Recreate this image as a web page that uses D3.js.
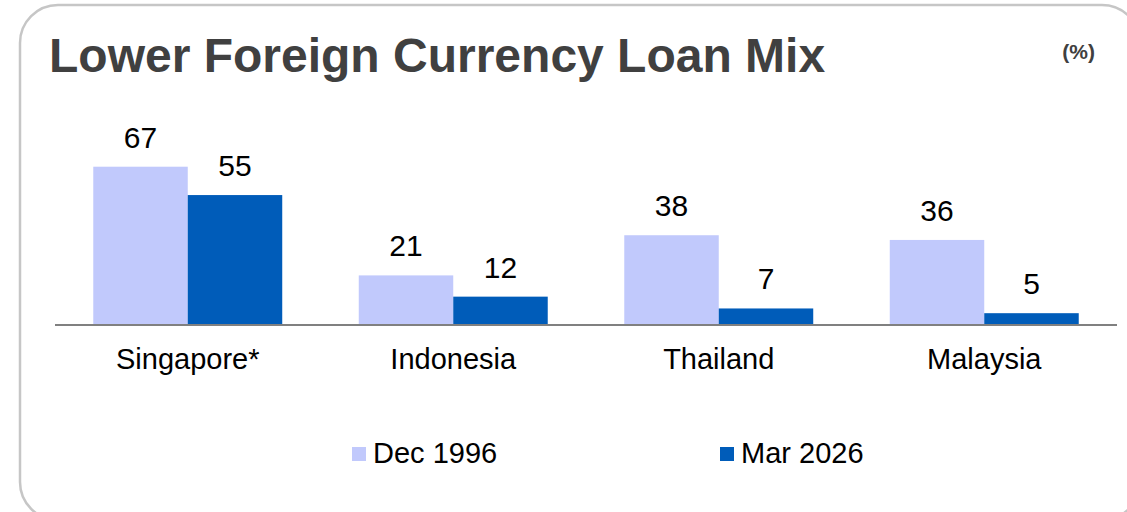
<!DOCTYPE html>
<html>
<head>
<meta charset="utf-8">
<script src="https://cdn.jsdelivr.net/npm/d3@7"></script>
<style>
  html, body { margin: 0; padding: 0; background: #fff; }
  svg text { font-family: Arial, "Liberation Sans", sans-serif; }
</style>
</head>
<body>
<div id="chart"></div>
<script>
// data
const countries = ["Singapore*", "Indonesia", "Thailand", "Malaysia"];
const seriesNames = ["Dec 1996", "Mar 2026"];
const dec1996 = [67, 21, 38, 36];
const mar2026 = [55, 12, 7, 5];

const width = 1127, height = 512;
const colors = ["#c1c9fc", "#005cb9"];

const svg = d3.select("#chart").append("svg")
  .attr("width", width)
  .attr("height", height);

// rounded frame
svg.append("rect")
  .attr("x", 20).attr("y", 5)
  .attr("width", 1120).attr("height", 515)
  .attr("rx", 38).attr("ry", 38)
  .attr("fill", "#fff")
  .attr("stroke", "#c6c6c6")
  .attr("stroke-width", 2.5);

svg.append("text")
  .attr("x", 49).attr("y", 72)
  .style("font-size", "48px")
  .style("font-weight", "bold")
  .style("fill", "#404040")
  .text("Lower Foreign Currency Loan Mix");

svg.append("text")
  .attr("x", 1095).attr("y", 59)
  .attr("text-anchor", "end")
  .style("font-size", "21px")
  .style("font-weight", "bold")
  .style("fill", "#404040")
  .text("(%)");

const x0 = d3.scaleBand()
  .domain(countries)
  .range([55, 1117]);

const x1 = d3.scaleBand()
  .domain(seriesNames)
  .range([0, x0.bandwidth()])
  .paddingOuter(0.405);

const y = d3.scaleLinear()
  .domain([0, 80])
  .range([325, 136]);

const rows = countries.map((c, i) => ({
  country: c,
  values: [
    { key: seriesNames[0], value: dec1996[i] },
    { key: seriesNames[1], value: mar2026[i] }
  ]
}));

const groups = svg.append("g").selectAll("g")
  .data(rows)
  .enter().append("g")
  .attr("transform", d => "translate(" + x0(d.country) + ",0)");

groups.selectAll("rect")
  .data(d => d.values)
  .enter().append("rect")
  .attr("x", d => x1(d.key))
  .attr("y", d => y(d.value))
  .attr("width", x1.bandwidth())
  .attr("height", d => y(0) - y(d.value))
  .attr("fill", (d, i) => colors[i]);

groups.selectAll("text.val")
  .data(d => d.values)
  .enter().append("text")
  .attr("class", "val")
  .attr("x", d => x1(d.key) + x1.bandwidth() / 2)
  .attr("y", d => y(d.value) - 19)
  .attr("text-anchor", "middle")
  .style("font-size", "30px")
  .style("fill", "#000")
  .text(d => d.value);

// baseline
svg.append("line")
  .attr("x1", x0.range()[0]).attr("x2", x0.range()[1])
  .attr("y1", y(0)).attr("y2", y(0))
  .attr("stroke", "#808080")
  .attr("stroke-width", 2);

svg.append("g").selectAll("text")
  .data(countries)
  .enter().append("text")
  .attr("x", d => x0(d) + x0.bandwidth() / 2)
  .attr("y", 369)
  .attr("text-anchor", "middle")
  .style("font-size", "29px")
  .style("fill", "#000")
  .text(d => d);

// legend
const legendX = [352, 720];
const legend = svg.append("g").selectAll("g")
  .data(seriesNames)
  .enter().append("g")
  .attr("transform", (d, i) => "translate(" + legendX[i] + ",447)");

legend.append("rect")
  .attr("width", 14).attr("height", 14)
  .attr("fill", (d, i) => colors[i]);

legend.append("text")
  .attr("x", 21).attr("y", 16)
  .style("font-size", "29px")
  .style("fill", "#000")
  .text(d => d);
</script>
</body>
</html>
